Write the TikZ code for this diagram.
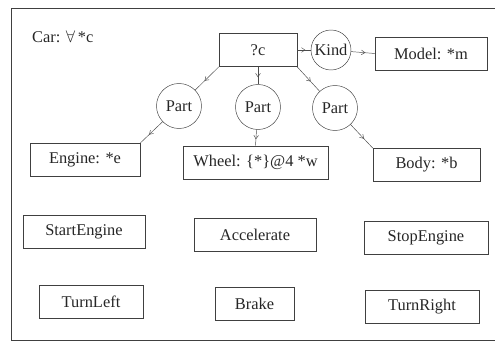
\documentclass[tikz,border=0pt]{standalone}
\usepackage{fontspec}
\setmainfont{Liberation Serif}
\usetikzlibrary{arrows.meta,decorations.markings}
\begin{document}
\begin{tikzpicture}[x=0.03cm,y=-0.03cm,
    every node/.style={font=\fontsize{14}{16}\selectfont,text=black!85},
    concept/.style={draw=black!75,thin,inner sep=2pt,minimum height=1.0cm},
    relation/.style={draw=black!75,thin,circle,inner sep=1pt,minimum size=1.35cm},
    flow/.style={draw=black!70,thin,postaction={decorate},
        decoration={markings,mark=at position 0.6 with {\arrow{Straight Barb[length=3pt,width=4pt]}}}}]
    \useasboundingbox (0,0) rectangle (495,346);

    \def\framel{11}
    \def\framet{8}
    \def\frameb{340}
    \def\framer{495}

    \draw[black!75,line width=0.7pt] (\framer,\framet) -- (\framel,\framet) -- (\framel,\frameb) -- (\framer,\frameb);

    \node[anchor=west] (carlabel) at (28,37) {Car: $\forall$\,*c};

    \node[concept,minimum width=2.34cm] (qc) at (258,50) {?c};
    \node[relation,inner sep=0pt,minimum size=1.2cm] (kind) at (331,50) {Kind};
    \node[concept,minimum width=3.36cm] (model) at (431,53.5) {Model: *m};

    \node[relation] (partl) at (179,106) {Part};
    \node[relation] (partm) at (258,107) {Part};
    \node[relation] (partr) at (335,108) {Part};

    \node[concept,minimum width=3.3cm] (engine) at (85,160) {Engine: *e};
    \node[concept,minimum width=4.35cm] (wheel) at (255.5,162.5) {Wheel: \{*\}@4 *w};
    \node[concept,minimum width=3.21cm] (body) at (426.5,165) {Body: *b};

    \node[concept,minimum width=3.66cm] (startengine) at (84,231.5) {StartEngine};
    \node[concept,minimum width=3.66cm] (accelerate) at (255,234.5) {Accelerate};
    \node[concept,minimum width=3.72cm] (stopengine) at (426,237.5) {StopEngine};

    \node[concept,minimum width=3.12cm] (turnleft) at (91,301.5) {TurnLeft};
    \node[concept,minimum width=2.37cm] (brake) at (254.5,304) {Brake};
    \node[concept,minimum width=3.42cm] (turnright) at (422,307) {TurnRight};

    \draw[flow] (qc.east) -- (kind);
    \draw[flow] (kind) -- (model.west);

    \draw[flow] (qc.south west) -- (partl);
    \draw[flow] (qc.south) -- (partm);
    \draw[flow] (qc.south east) -- (partr);

    \draw[flow] (partl) -- (engine.north east);
    \draw[flow] (partm) -- (wheel.north);
    \draw[flow] (partr) -- (body.north west);
\end{tikzpicture}
\end{document}
